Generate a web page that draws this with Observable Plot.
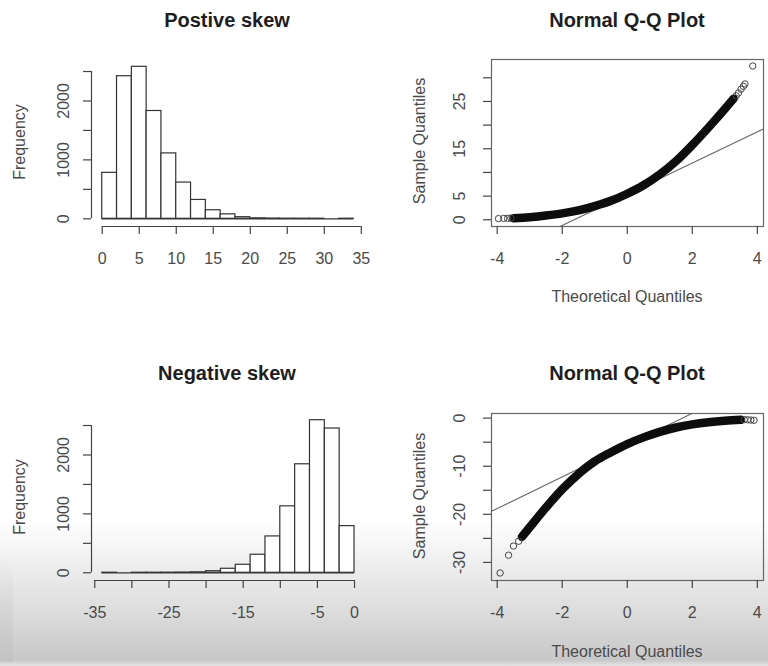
<!DOCTYPE html>
<html><head><meta charset="utf-8">
<script src="https://cdn.jsdelivr.net/npm/d3@7"></script>
<script src="https://cdn.jsdelivr.net/npm/@observablehq/plot@0.6"></script>
<style>
body{margin:0;width:768px;height:666px;position:relative;overflow:hidden;background:#fff;font-family:"Liberation Sans",Arial,sans-serif;}
#shade{position:absolute;left:0;top:520px;width:768px;height:146px;background:linear-gradient(to bottom, rgba(205,205,205,0) 0%, rgba(222,222,222,1) 60%, rgba(200,200,200,1) 96%, #e6e6e6 100%);}
#lstrip{position:absolute;left:0;top:560px;width:13px;height:102px;background:linear-gradient(to bottom, rgba(190,190,190,0), rgba(190,190,190,0.5));}
.panel{position:absolute;}
.lbl{position:absolute;white-space:nowrap;transform:translate(-50%,-50%);line-height:1;color:#4a4a4a;font-size:16px;}
.title{font-weight:bold;font-size:20px;color:#1e1e1e;}
.rot{transform:translate(-50%,-50%) rotate(-90deg);}
</style>
</head><body>
<div id="shade"></div><div id="lstrip"></div>
<div id="p1" class="panel" style="left:0;top:0"></div>
<div id="p2" class="panel" style="left:384px;top:0"></div>
<div id="p3" class="panel" style="left:0;top:354px"></div>
<div id="p4" class="panel" style="left:384px;top:354px"></div>
<div class="lbl title" style="left:227px;top:20px">Postive skew</div>
<div class="lbl title" style="left:627px;top:20px">Normal Q-Q Plot</div>
<div class="lbl title" style="left:227px;top:373px">Negative skew</div>
<div class="lbl title" style="left:627px;top:373px">Normal Q-Q Plot</div>
<div class="lbl rot" style="left:20px;top:142px">Frequency</div>
<div class="lbl rot" style="left:20px;top:497px">Frequency</div>
<div class="lbl rot" style="left:420px;top:141px">Sample Quantiles</div>
<div class="lbl rot" style="left:420px;top:496px">Sample Quantiles</div>
<div class="lbl" style="left:627px;top:297px">Theoretical Quantiles</div>
<div class="lbl" style="left:627px;top:652px">Theoretical Quantiles</div>
<script>
// ---- data ----
const posBreaks = [0,2,4,6,8,10,12,14,16,18,20,22,24,26,28,30,32,34];
const posCounts = [780,2420,2580,1830,1110,615,320,145,75,27,8,4,2,1,1,0,1];
const negBreaks = [-34,-32,-30,-28,-26,-24,-22,-20,-18,-16,-14,-12,-10,-8,-6,-4,-2,0];
const negCounts = [1,0,1,1,2,4,8,27,68,136,306,617,1128,1842,2590,2449,792];

const posXTicks = [0,5,10,15,20,25,30,35];
const posXLabels = [0,5,10,15,20,25,30,35];
const negXTicks = [-35,-30,-25,-20,-15,-10,-5,0];
const negXLabels = [-35,-25,-15,-5,0];
const histYTicks = [0,500,1000,1500,2000,2500];
const histYLabels = [0,1000,2000];

const qqXTicks = [-4,-2,0,2,4];
const qqTopYTicks = [0,5,10,15,20,25,30];
const qqTopYLabels = [0,5,15,25];
const qqBotYTicks = [-30,-25,-20,-15,-10,-5,0];
const qqBotYLabels = [-30,-20,-10,0];

// Q-Q curves (theoretical q, sample v)
const topBandQ = [-3.5,-3.0,-2.5,-2.0,-1.5,-1.0,-0.5,0.0,0.5,1.0,1.5,2.0,2.5,3.0,3.27];
const topBandV = [0.3,0.55,0.9,1.35,2.0,2.9,4.0,5.5,7.3,9.6,12.4,15.8,19.5,23.4,25.6];
const topTailQ = [-3.96,-3.8,-3.68,-3.58,3.35,3.42,3.5,3.57,3.62,3.86];
const topTailV = [0.25,0.3,0.3,0.35,26.2,26.8,27.6,28.2,28.7,32.5];
const topLine = {intercept: 5.4, slope: 3.3};

const botBandQ = [-3.24,-3.0,-2.5,-2.0,-1.5,-1.0,-0.5,0.0,0.5,1.0,1.5,2.0,2.5,3.0,3.5];
const botBandV = [-24.7,-22.7,-18.6,-14.8,-11.6,-9.0,-7.1,-5.4,-4.0,-2.85,-1.95,-1.3,-0.85,-0.55,-0.35];
const botTailQ = [-3.91,-3.65,-3.5,-3.34,3.6,3.7,3.8,3.9];
const botTailV = [-32.2,-28.5,-26.6,-25.6,-0.3,-0.35,-0.4,-0.45];
const botLine = {intercept: -5.6, slope: 3.3};

// ---- drawing ----
const FONT = "'Liberation Sans', Arial, sans-serif";
const baseStyle = {background: "transparent", fontFamily: FONT, fontSize: "16px", color: "#4a4a4a", overflow: "visible"};

function hist(el, breaks, counts, xDomain, xTicks, xLabels, height) {
  const bins = counts.map((c, i) => ({x1: breaks[i], x2: breaks[i+1], n: c}));
  const yDomain = [-131, 2704];
  const svg = Plot.plot({
    width: 384, height,
    marginLeft: 91, marginRight: 21, marginTop: 59, marginBottom: height - 226,
    x: {domain: xDomain}, y: {domain: yDomain},
    style: baseStyle,
    marks: [
      Plot.rectY(bins, {x1: "x1", x2: "x2", y1: 0, y2: "n", fill: "white", stroke: "#333", strokeWidth: 1.2, inset: 0}),
      Plot.ruleY([0], {x1: breaks[0], x2: breaks[breaks.length-1], stroke: "#333", strokeWidth: 1.2}),
      Plot.ruleY([yDomain[0]], {x1: xTicks[0], x2: xTicks[xTicks.length-1], stroke: "#444", strokeWidth: 1.2}),
      Plot.ruleX([xDomain[0]], {y1: histYTicks[0], y2: histYTicks[histYTicks.length-1], stroke: "#444", strokeWidth: 1.2}),
      Plot.axisX({ticks: xTicks, tickSize: 8, tickPadding: 18, tickFormat: d => xLabels.includes(d) ? String(d) : "", label: null, stroke: "#444", strokeWidth: 1.2}),
      Plot.axisY({ticks: histYTicks, tickSize: 8, tickPadding: 15, tickRotate: -90, tickFormat: d => histYLabels.includes(d) ? String(d) : "", label: null, stroke: "#444", strokeWidth: 1.2})
    ]
  });
  document.getElementById(el).append(svg);
}

function qq(el, bandQ, bandV, tailQ, tailV, line, yDomain, yTicks, yLabels, height) {
  const xDomain = [-4.175, 4.19];
  const band = bandQ.map((q, i) => ({q, v: bandV[i]}));
  const tail = tailQ.map((q, i) => ({q, v: tailV[i]}));
  const ref = xDomain.map(q => ({q, v: line.intercept + line.slope * q}));
  const svg = Plot.plot({
    width: 384, height,
    marginLeft: 107, marginRight: 5, marginTop: 59, marginBottom: height - 226,
    x: {domain: xDomain}, y: {domain: yDomain},
    style: baseStyle,
    marks: [
      Plot.line(ref, {x: "q", y: "v", stroke: "#666", strokeWidth: 1.1, clip: true}),
      Plot.line(band, {x: "q", y: "v", stroke: "#0d0d0d", strokeWidth: 8.5, strokeLinecap: "round", curve: "catmull-rom", clip: true}),
      Plot.dot(tail, {x: "q", y: "v", r: 3.2, stroke: "#444", strokeWidth: 1, fill: "none"}),
      Plot.frame({stroke: "#666", strokeWidth: 1.2}),
      Plot.axisX({ticks: qqXTicks, tickSize: 8, tickPadding: 18, tickFormat: d => String(d), label: null, stroke: "#444", strokeWidth: 1.2}),
      Plot.axisY({ticks: yTicks, tickSize: 8, tickPadding: 19, tickRotate: -90, tickFormat: d => yLabels.includes(d) ? String(d) : "", label: null, stroke: "#444", strokeWidth: 1.2})
    ]
  });
  document.getElementById(el).append(svg);
}

hist("p1", posBreaks, posCounts, [-1.45, 35.3], posXTicks, posXLabels, 333);
qq("p2", topBandQ, topBandV, topTailQ, topTailV, topLine, [-1.42, 33.87], qqTopYTicks, qqTopYLabels, 333);
hist("p3", negBreaks, negCounts, [-35.44, 1.21], negXTicks, negXLabels, 312);
qq("p4", botBandQ, botBandV, botTailQ, botTailV, botLine, [-33.76, 0.96], qqBotYTicks, qqBotYLabels, 312);
</script>
</body></html>
